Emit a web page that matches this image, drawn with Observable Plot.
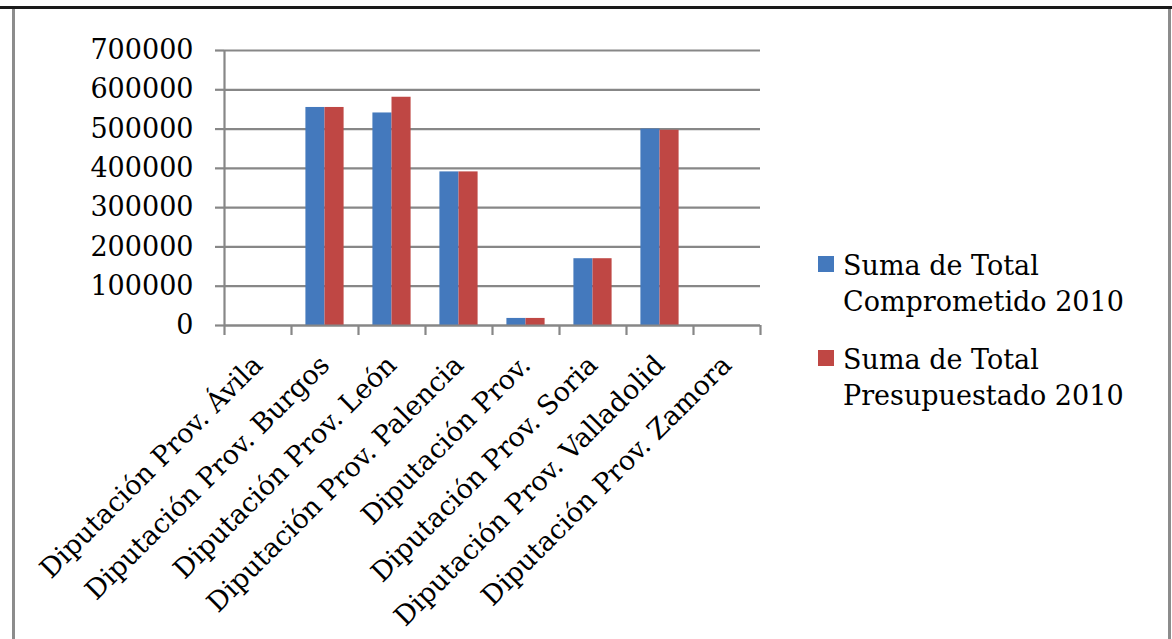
<!DOCTYPE html>
<html>
<head>
<meta charset="utf-8">
<script src="https://cdn.jsdelivr.net/npm/d3@7"></script>
<script src="https://cdn.jsdelivr.net/npm/@observablehq/plot@0.6"></script>
<style>
  html, body { margin: 0; padding: 0; background: #fff; }
  #wrap { position: relative; width: 1172px; height: 639px; overflow: hidden; background: #fff; }
  #wrap svg { position: absolute; left: 0; top: 0; }
  .line { position: absolute; }
  #legend { position: absolute; left: 818px; top: 248px; font-family: "DejaVu Serif", serif; font-size: 27px; color: #000; }
  .item { display: flex; align-items: flex-start; margin-bottom: 22px; }
  .sw { width: 16px; height: 16px; margin-top: 8px; margin-right: 9px; flex: none; }
  .lab { line-height: 36px; }
</style>
</head>
<body>
<div id="wrap">
  <div class="line" style="left:0;top:6px;width:1172px;height:3px;background:#1a1a1a;"></div>
  <div class="line" style="left:12px;top:9px;width:3px;height:630px;background:#8c8c8c;"></div>
  <div class="line" style="left:1168px;top:9px;width:3px;height:630px;background:#8c8c8c;"></div>
  <div id="legend"></div>
</div>
<script>
const categories = [
  "Diputación Prov. Ávila",
  "Diputación Prov. Burgos",
  "Diputación Prov. León",
  "Diputación Prov. Palencia",
  "Diputación Prov.",
  "Diputación Prov. Soria",
  "Diputación Prov. Valladolid",
  "Diputación Prov. Zamora"
];
const comprometido = [null, 555000, 541000, 391000, 18000, 170000, 500000, null];
const presupuestado = [null, 555000, 581000, 391000, 18000, 170000, 497000, null];
const seriesNames = ["Suma de Total Comprometido 2010", "Suma de Total Presupuestado 2010"];
const legendLines = [["Suma de Total", "Comprometido 2010"], ["Suma de Total", "Presupuestado 2010"]];
const yTicks = [0, 100000, 200000, 300000, 400000, 500000, 600000, 700000];
const colors = ["#4479bd", "#bf4744"];

const rows = [];
categories.forEach((c, i) => {
  rows.push({cat: c, i, s: 0, value: comprometido[i]});
  rows.push({cat: c, i, s: 1, value: presupuestado[i]});
});
const data = rows.filter(d => d.value != null);

const pad = 0.215;        // outer gap inside each category band
const half = (1 - 2 * pad) / 2;

const gridColor = "#878787";
const font = "DejaVu Serif";

const chart = Plot.plot({
  width: 1172,
  height: 639,
  marginLeft: 224,
  marginRight: 412,
  marginTop: 50,
  marginBottom: 314,
  style: {fontFamily: font, background: "transparent", color: "#000"},
  x: {domain: [0, categories.length]},
  y: {domain: [0, 700000]},
  marks: [
    Plot.gridY(yTicks, {stroke: gridColor, strokeOpacity: 1, strokeWidth: 2.2}),
    Plot.axisY({
      ticks: yTicks, tickSize: 9, tickPadding: 22, tickFormat: d3.format("d"),
      stroke: gridColor, strokeWidth: 2.2, fontSize: 27, fill: "#000", label: null
    }),
    Plot.axisX({
      ticks: d3.range(0, categories.length + 1), tickSize: 10, tickFormat: () => "",
      stroke: gridColor, strokeWidth: 2.2, label: null
    }),
    Plot.axisX({
      ticks: d3.range(categories.length).map(i => i + 0.5), tickSize: 0, tickPadding: 35,
      tickFormat: v => categories[Math.floor(v)], tickRotate: -45,
      fontSize: 27, fill: "#000", label: null
    }),
    Plot.rectY(data, {
      x1: d => d.i + pad + d.s * half,
      x2: d => d.i + pad + (d.s + 1) * half,
      y1: 0, y2: "value",
      fill: d => colors[d.s]
    }),
    Plot.ruleY([0], {stroke: gridColor, strokeWidth: 2.2}),
    Plot.ruleX([0], {stroke: gridColor, strokeWidth: 2.2})
  ]
});
document.getElementById("wrap").insertBefore(chart, document.getElementById("legend"));

const legend = document.getElementById("legend");
legendLines.forEach((lines, k) => {
  const item = document.createElement("div");
  item.className = "item";
  item.title = seriesNames[k];
  const sw = document.createElement("div");
  sw.className = "sw";
  sw.style.background = colors[k];
  const lab = document.createElement("div");
  lab.className = "lab";
  lab.innerHTML = lines.join("<br>");
  item.appendChild(sw);
  item.appendChild(lab);
  legend.appendChild(item);
});
</script>
</body>
</html>
